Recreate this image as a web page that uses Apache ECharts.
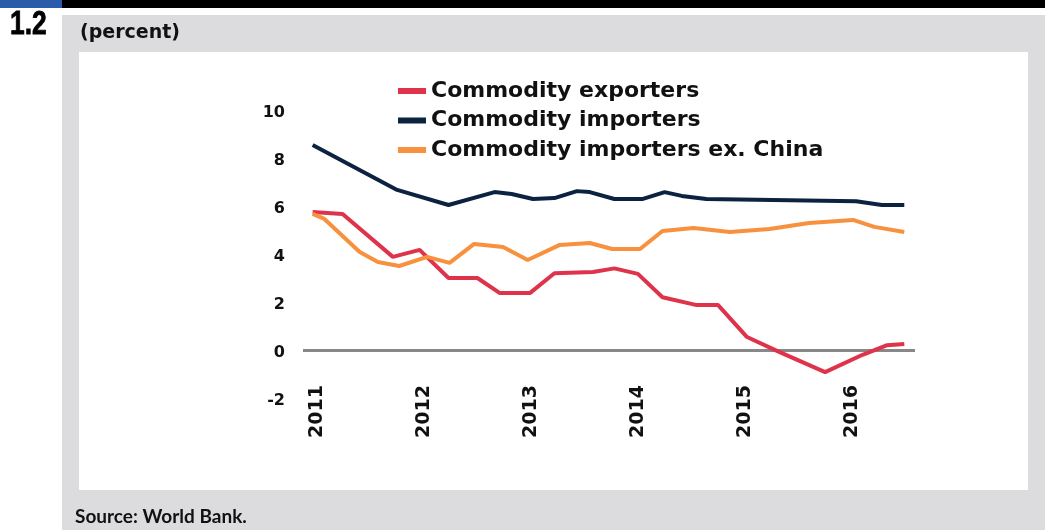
<!DOCTYPE html>
<html>
<head>
<meta charset="utf-8">
<script src="https://cdn.jsdelivr.net/npm/echarts@6/dist/echarts.min.js"></script>
<style>
  html, body { margin: 0; padding: 0; background: #fff; }
  #chart { width: 1045px; height: 530px; }
</style>
</head>
<body>
<div id="chart"></div>
<script>
// values, x in decimal years
const yearTicks = [2011, 2012, 2013, 2014, 2015, 2016];
const seriesNames = ['Commodity exporters', 'Commodity importers', 'Commodity importers ex. China'];

const exporters = [
  [2011.00, 5.75], [2011.28, 5.67], [2011.75, 3.88], [2012.00, 4.17], [2012.27, 3.00],
  [2012.54, 3.00], [2012.75, 2.37], [2013.03, 2.37], [2013.26, 3.20], [2013.62, 3.25],
  [2013.82, 3.40], [2014.04, 3.17], [2014.27, 2.20], [2014.59, 1.87], [2014.79, 1.87],
  [2015.06, 0.54], [2015.36, -0.08], [2015.79, -0.92], [2016.14, -0.20], [2016.37, 0.20],
  [2016.53, 0.25]
];
const importers = [
  [2011.00, 8.54], [2011.79, 6.67], [2012.27, 6.04], [2012.70, 6.58], [2012.86, 6.50],
  [2013.06, 6.29], [2013.26, 6.33], [2013.47, 6.62], [2013.59, 6.58], [2013.82, 6.29],
  [2014.08, 6.29], [2014.29, 6.58], [2014.45, 6.42], [2014.68, 6.29], [2016.08, 6.20],
  [2016.32, 6.04], [2016.53, 6.04]
];
const importersExChina = [
  [2011.00, 5.67], [2011.11, 5.46], [2011.44, 4.08], [2011.61, 3.67], [2011.81, 3.50],
  [2012.07, 3.88], [2012.28, 3.63], [2012.51, 4.42], [2012.78, 4.29], [2013.01, 3.75],
  [2013.31, 4.38], [2013.59, 4.46], [2013.80, 4.21], [2014.06, 4.21], [2014.27, 4.96],
  [2014.56, 5.08], [2014.90, 4.92], [2015.27, 5.04], [2015.64, 5.29], [2016.05, 5.42],
  [2016.25, 5.13], [2016.53, 4.92]
];

const colors = ['#DE334B', '#0B2341', '#F7913D'];
const wideFont = '"DejaVu Sans", sans-serif';
const font = 'Lato, "Open Sans", sans-serif';

let chart = echarts.init(document.getElementById('chart'));

function lineSeries(name, data, color) {
  return {
    name: name,
    type: 'line',
    data: data,
    showSymbol: false,
    symbol: 'none',
    lineStyle: { color: color, width: 4 },
    itemStyle: { color: color },
    z: 5
  };
}

let option = {
  backgroundColor: '#fff',
  animation: false,
  color: colors,
  graphic: [
    { type: 'rect', z: -20, shape: { x: 0, y: 0, width: 62, height: 8 }, style: { fill: '#2A5CAA' } },
    { type: 'rect', z: -20, shape: { x: 62, y: 0, width: 983, height: 8 }, style: { fill: '#000' } },
    { type: 'rect', z: -20, shape: { x: 62, y: 15, width: 983, height: 515 }, style: { fill: '#DCDCDE' } },
    { type: 'rect', z: -19, shape: { x: 79, y: 52, width: 949, height: 438 }, style: { fill: '#fff' } },
    { type: 'text', z: 10, x: 10, y: 25, scaleX: 0.8,
      style: { text: '1.2', fill: '#000', verticalAlign: 'middle', stroke: '#000', lineWidth: 0.8,
               font: 'bold 33px "Liberation Sans", Arial, sans-serif' } },
    { type: 'text', z: 10, x: 80, y: 33,
      style: { text: '(percent)', fill: '#111', verticalAlign: 'middle', font: 'bold 19px ' + wideFont } },
    { type: 'text', z: 10, x: 75, y: 517,
      style: { text: 'Source: World Bank.', fill: '#111', verticalAlign: 'middle', font: 'bold 19px ' + font } }
  ],
  legend: {
    orient: 'vertical',
    left: 393,
    top: 75,
    icon: 'rect',
    itemWidth: 28,
    itemHeight: 6,
    itemGap: 7.5,
    data: seriesNames,
    textStyle: { fontFamily: wideFont, fontWeight: 'bold', fontSize: 22, color: '#111', lineHeight: 22 }
  },
  grid: { left: 303, right: 130, top: 110, bottom: 132, containLabel: false },
  xAxis: {
    type: 'value',
    min: 2010.91,
    max: 2016.63,
    axisLine: { show: false },
    axisTick: { show: false },
    splitLine: { show: false },
    axisLabel: {
      customValues: yearTicks,
      rotate: 90,
      margin: -13,
      formatter: v => '{a|' + v + '}',
      rich: {
        a: { padding: [8, 0, 0, 0], color: '#111', fontFamily: wideFont, fontWeight: 'bold', fontSize: 19 }
      }
    }
  },
  yAxis: {
    type: 'value',
    min: -2,
    max: 10,
    interval: 2,
    axisLine: { show: false },
    axisTick: { show: false },
    splitLine: { show: false },
    axisLabel: {
      margin: 18,
      formatter: v => '{a|' + v + '}',
      rich: {
        a: { padding: [6, 0, 0, 0], color: '#111', fontFamily: wideFont, fontWeight: 'bold', fontSize: 16 }
      }
    }
  },
  series: [
    lineSeries(seriesNames[0], exporters, colors[0]),
    lineSeries(seriesNames[1], importers, colors[1]),
    lineSeries(seriesNames[2], importersExChina, colors[2]),
    {
      type: 'line',
      data: [],
      z: 3,
      markLine: {
        silent: true,
        symbol: 'none',
        label: { show: false },
        lineStyle: { color: '#888', width: 3, type: 'solid' },
        data: [{ yAxis: 0 }]
      }
    }
  ]
};
chart.setOption(option);
</script>
</body>
</html>
